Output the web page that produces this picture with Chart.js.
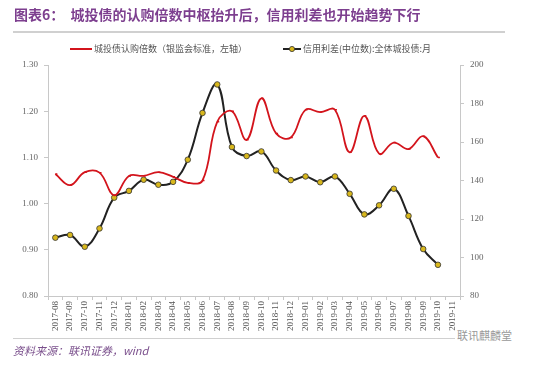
<!DOCTYPE html>
<html>
<head>
<meta charset="utf-8">
<script src="https://cdn.jsdelivr.net/npm/chart.js@4/dist/chart.umd.min.js"></script>
<style>
  body { margin: 0; background: #fff; }
  #wrap { position: relative; width: 550px; height: 370px; overflow: hidden; }
  #c { position: absolute; left: 0; top: 0; }
  .title { position: absolute; left: 14px; top: 4px; font: bold 14px "Noto Sans CJK SC", sans-serif; color: #7d3f8f; white-space: nowrap; }
  .rule { position: absolute; left: 13px; width: 492px; height: 2px; background: #d0d0d0; }
  .legend { position: absolute; top: 42px; font: 9px "Noto Sans CJK SC", serif; color: #555; white-space: nowrap; display: flex; align-items: center; }
  .legend svg { margin-right: 2px; }
  .source { position: absolute; left: 13px; top: 342px; font: italic 11px "Noto Sans CJK SC", sans-serif; color: #7a4f8c; }
  .mark { position: absolute; left: 455px; top: 327px; font: 11px "Noto Sans CJK SC", sans-serif; color: #999; background: #fff; padding: 0 2px; }
</style>
</head>
<body>
<div id="wrap">
  <canvas id="c" width="550" height="370"></canvas>
  <div class="title">图表6：&nbsp;&nbsp;城投债的认购倍数中枢抬升后，信用利差也开始趋势下行</div>
  <div class="rule" style="top:31px"></div>
  <div class="legend" style="left:70px">
    <svg width="22" height="8"><line x1="0" y1="4" x2="22" y2="4" stroke="#d3141c" stroke-width="2"/></svg>城投债认购倍数（银监会标准，左轴）
  </div>
  <div class="legend" style="left:283px">
    <svg width="18" height="8"><line x1="0" y1="4" x2="18" y2="4" stroke="#222" stroke-width="2"/><circle cx="9" cy="4" r="2.6" fill="#d8b71c" stroke="#333" stroke-width="0.8"/></svg>信用利差(中位数):全体城投债:月
  </div>
  <div class="rule" style="top:338px;height:1px"></div>
  <div class="source">资料来源：联讯证券，wind</div>
  <div class="mark">联讯麒麟堂</div>
</div>
<script>
const months = ["2017-08","2017-09","2017-10","2017-11","2017-12",
  "2018-01","2018-02","2018-03","2018-04","2018-05","2018-06","2018-07","2018-08","2018-09","2018-10","2018-11","2018-12",
  "2019-01","2019-02","2019-03","2019-04","2019-05","2019-06","2019-07","2019-08","2019-09","2019-10","2019-11"];

// 城投债认购倍数 (left axis)
const subscription = [1.064, 1.040, 1.068, 1.067, 1.018, 1.060, 1.060, 1.068, 1.058, 1.045, 1.050, 1.177, 1.200, 1.138,
  1.228, 1.152, 1.143, 1.203, 1.198, 1.203, 1.111, 1.190, 1.108, 1.132, 1.118, 1.146, 1.100, null];

// 信用利差 中位数 (right axis)
const spread = [110.3, 111.7, 105.6, 115.1, 131.1, 134.6, 140.4, 137.8, 139.3, 150.8, 175.1, 189.9, 157.4, 152.7,
  155.1, 145.2, 140.2, 142.1, 139.1, 142.1, 133.1, 122.4, 127.1, 135.7, 121.6, 104.4, 96.2, null];

const axisColor = "#c8c8c8";
const tickFont = { family: "Liberation Serif", size: 9 };

new Chart(document.getElementById("c").getContext("2d"), {
  type: "line",
  data: {
    labels: months,
    datasets: [
      {
        label: "城投债认购倍数（银监会标准，左轴）",
        data: subscription,
        yAxisID: "yL",
        borderColor: "#d3141c",
        borderWidth: 1.8,
        tension: 0.4,
        pointStyle: "dash",
        pointRadius: 2,
        pointBorderColor: "#d3141c",
        pointBorderWidth: 1.5
      },
      {
        label: "信用利差(中位数):全体城投债:月",
        data: spread,
        yAxisID: "yR",
        borderColor: "#222",
        borderWidth: 2,
        tension: 0.4,
        pointRadius: 2.8,
        pointBackgroundColor: "#d8b71c",
        pointBorderColor: "#333",
        pointBorderWidth: 0.8
      }
    ]
  },
  options: {
    responsive: false,
    animation: false,
    layout: { padding: { top: 65, bottom: 35, left: 0, right: 0 } },
    plugins: { legend: { display: false }, tooltip: { enabled: false } },
    scales: {
      x: {
        offset: true,
        grid: { display: true, offset: true, drawOnChartArea: false, tickLength: 4, color: axisColor },
        border: { color: axisColor },
        ticks: { autoSkip: false, minRotation: 90, maxRotation: 90, color: "#555", font: tickFont, padding: 1 },
        afterFit: s => { s.height = 39; }
      },
      yL: {
        position: "left",
        min: 0.8, max: 1.3,
        grid: { drawOnChartArea: false, tickLength: 4, color: axisColor },
        border: { color: axisColor },
        ticks: { stepSize: 0.1, color: "#666", font: tickFont, padding: 6, callback: v => v.toFixed(2) },
        afterFit: s => { s.width = 48; }
      },
      yR: {
        position: "right",
        min: 80, max: 200,
        grid: { drawOnChartArea: false, tickLength: 4, color: axisColor },
        border: { color: axisColor },
        ticks: { stepSize: 20, color: "#666", font: tickFont, padding: 6 },
        afterFit: s => { s.width = 90; }
      }
    }
  }
});
</script>
</body>
</html>
